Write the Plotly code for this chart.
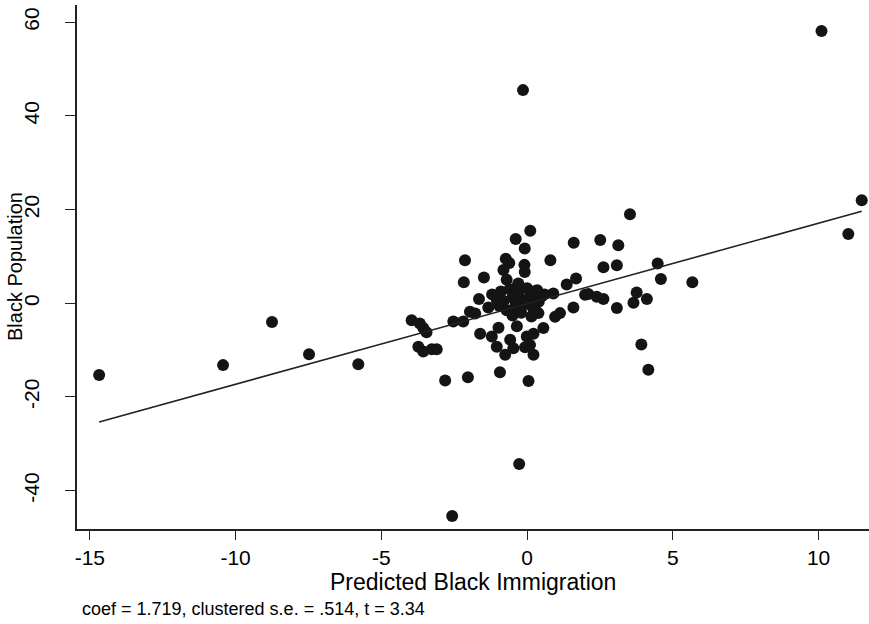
import plotly.graph_objects as go

# Scatter data (Predicted Black Immigration, Black Population)
pred_imm = [
    -14.68, -10.43, -8.75, -7.48, -5.79, -2.57, -0.27, -0.14, 10.1, 11.02, 11.48,
    5.67, 4.16, 3.92, 4.59, 4.48, 3.53, 3.13, 2.51, 1.60, 2.62, 3.08, 0.80,
    0.11, -0.39, -0.08, -2.13, -0.73, -0.61, -0.09, -0.08, -0.81, -2.17, -1.48,
    -0.70, -0.35, 1.68, 1.36, 0.90, 2.10, 2.39, 2.62, 1.99, 3.76, 3.65, 4.11,
    3.08, 1.59, 1.13, 0.96, 0.56, -3.96, -3.68, -3.56, -3.45, -3.73, -3.56,
    -3.27, -3.10, -2.53, -2.19, -1.96, -1.78, -1.65, -1.33, -1.04, -1.61, -1.21,
    -1.04, -0.98, -0.35, -0.58, -0.01, 0.22, 0.10, -0.47, -0.07, 0.22, -0.75,
    -2.81, -2.03, -0.93, 0.05, 0.39,
    -0.9, -0.6, -0.3, 0.0, 0.3, 0.5, -0.8, -0.5, -0.2, 0.1, 0.4, -0.7, -0.4,
    -0.1, 0.2, -0.5, -0.2, 0.05, -0.95, 0.6, -1.2, -0.3, 0.15, 0.35,
]
black_pop = [
    -15.3, -13.2, -4.0, -10.9, -13.0, -45.4, -34.3, 45.5, 58.1, 14.8, 22.0,
    4.5, -14.2, -8.8, 5.2, 8.5, 19.0, 12.4, 13.5, 12.9, 7.7, 8.1, 9.2,
    15.5, 13.7, 11.7, 9.2, 9.5, 8.6, 8.2, 6.7, 7.1, 4.5, 5.5,
    5.0, 3.5, 5.3, 4.0, 2.1, 2.0, 1.4, 0.9, 1.8, 2.3, 0.1, 0.9,
    -1.0, -0.9, -2.1, -2.9, -5.3, -3.6, -4.3, -5.3, -6.2, -9.3, -10.3,
    -9.8, -9.8, -3.9, -3.9, -1.8, -2.2, 0.9, -0.9, 0.7, -6.5, -7.1,
    -9.3, -5.2, -4.9, -7.8, -7.1, -6.5, -8.9, -9.6, -9.4, -11.0, -11.0,
    -16.5, -15.8, -14.7, -16.6, -2.1,
    2.5, 3.0, 2.2, 3.2, 2.6, 1.5, 0.5, 1.2, 0.8, 1.5, 0.3, -1.5, -0.5,
    -0.2, -1.0, -2.6, -2.0, 0.2, -0.6, 1.9, 1.9, 4.2, -2.8, 2.8,
]

# Fitted line parameters
coef = 1.719
intercept = -0.1
note_text = "coef = 1.719, clustered s.e. = .514, t = 3.34"

x_ticks = [-15, -10, -5, 0, 5, 10]
y_ticks = [-40, -20, 0, 20, 40, 60]

fit_x = [min(pred_imm), max(pred_imm)]
fit_y = [intercept + coef * v for v in fit_x]

FONT = "Liberation Sans, Arial, sans-serif"

fig = go.Figure()
fig.add_trace(go.Scatter(
    x=pred_imm, y=black_pop, mode="markers",
    marker=dict(size=12, color="#141414", line=dict(width=0)),
    showlegend=False, hoverinfo="x+y",
))
fig.add_trace(go.Scatter(
    x=fit_x, y=fit_y, mode="lines",
    line=dict(color="#222222", width=1.6),
    showlegend=False,
))

fig.update_layout(
    width=869, height=624,
    margin=dict(l=77, r=0, t=5, b=95),
    paper_bgcolor="white", plot_bgcolor="white",
    font=dict(family=FONT, color="black"),
    xaxis=dict(
        range=[-15.44, 11.73], tickvals=x_ticks, ticktext=[str(v) for v in x_ticks],
        showgrid=False, zeroline=False, showline=True, linecolor="#222222", linewidth=1.5,
        ticks="outside", ticklen=9, tickwidth=1.3, tickcolor="#222222",
        tickfont=dict(size=21, family=FONT, color="black"),
        ticklabelstandoff=0,
    ),
    yaxis=dict(
        range=[-48.18, 63.67], tickvals=y_ticks, ticktext=[str(v) for v in y_ticks],
        showgrid=False, zeroline=False, showline=True, linecolor="#222222", linewidth=1.5,
        ticks="outside", ticklen=10, tickwidth=1.3, tickcolor="#222222",
        tickfont=dict(size=21, family=FONT, color="black"),
        tickangle=-90, ticklabelstandoff=18,
    ),
    annotations=[
        dict(text="Black Population", xref="paper", yref="paper", x=0, y=0.5,
             xanchor="center", yanchor="middle", xshift=-62, textangle=-90,
             showarrow=False, font=dict(size=20, family=FONT, color="black")),
        dict(text="Predicted Black Immigration", xref="paper", yref="paper", x=0.5, y=0,
             xanchor="center", yanchor="middle", yshift=-53,
             showarrow=False, font=dict(size=23, family=FONT, color="black")),
        dict(text=note_text, xref="paper", yref="paper", x=0, y=0,
             xanchor="left", yanchor="middle", xshift=3, yshift=-80,
             showarrow=False, font=dict(size=18, family=FONT, color="black")),
    ],
)

fig.write_html("out.html")
